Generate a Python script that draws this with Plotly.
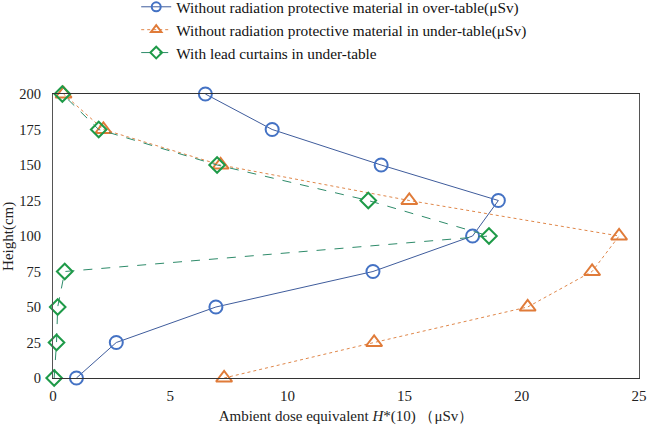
import plotly.graph_objects as go

heights = [0, 25, 50, 75, 100, 125, 150, 175, 200]
over_table = [1.0, 2.7, 6.95, 13.65, 17.9, 19.0, 14.0, 9.35, 6.5]
under_table = [7.3, 13.7, 20.25, 23.0, 24.15, 15.2, 7.15, 2.15, 0.45]
lead_curtain = [0.05, 0.15, 0.2, 0.5, 18.6, 13.45, 7.0, 1.95, 0.4]

names = [
    "Without radiation protective material in over-table(μSv)",
    "Without radiation protective material in under-table(μSv)",
    "With lead curtains in under-table",
]

series = [
    (over_table, dict(color="#3F5C9C", width=1), "circle-open", 13, "#4472C4"),
    (under_table, dict(color="#E0874A", width=1, dash="dot"), "triangle-up-open", 14, "#E07B39"),
    (lead_curtain, dict(color="#2E8B6A", width=1, dash="dash"), "diamond-open", 12, "#1E9A48"),
]

fig = go.Figure()
for (vals, line, sym, size, mcol), name in zip(series, names):
    fig.add_trace(go.Scatter(
        x=vals, y=heights, name=name, mode="lines+markers", showlegend=False,
        line=line, marker=dict(symbol=sym, size=size, color=mcol, line=dict(width=2)),
        cliponaxis=False,
    ))
# legend entries with smaller symbols, as in the reference
for (vals, line, sym, size, mcol), name in zip(series, names):
    fig.add_trace(go.Scatter(
        x=[None], y=[None], name=name, mode="lines+markers", showlegend=True,
        line=line, marker=dict(symbol=sym, size=9, color=mcol, line=dict(width=2)),
    ))

fig.update_layout(
    width=648, height=432,
    margin=dict(l=53, r=9, t=94, b=54, autoexpand=False),
    paper_bgcolor="white", plot_bgcolor="white",
    font=dict(family="Liberation Serif", size=15, color="#222222"),
    showlegend=True,
    legend=dict(x=0.142, y=1.365, xanchor="left", yanchor="top",
                font=dict(size=15.3, family="Liberation Serif", color="#111111"),
                tracegroupgap=0, bgcolor="rgba(0,0,0,0)"),
    xaxis=dict(range=[0, 25], tickvals=[0, 5, 10, 15, 20, 25],
               showgrid=False, zeroline=False, showline=True, mirror=True,
               linecolor="#333333", linewidth=1,
               ticks="outside", ticklen=4, tickcolor="rgba(0,0,0,0)",
               title=dict(text="Ambient dose equivalent <i>H</i>*(10) （μSv）",
                          font=dict(size=15), standoff=7)),
    yaxis=dict(range=[0, 200], tickvals=[0, 25, 50, 75, 100, 125, 150, 175, 200],
               showgrid=False, zeroline=False, showline=True, mirror=True,
               linecolor="#555555", linewidth=1, tickfont=dict(size=14.5),
               ticks="outside", ticklen=8, tickcolor="rgba(0,0,0,0)"),
    annotations=[dict(text="Height(cm)", textangle=-90, xref="paper", yref="paper",
                      x=-0.077, y=0.5, xanchor="center", yanchor="middle",
                      showarrow=False, font=dict(size=15))],
)

fig.write_html("out.html", post_script="document.body.style.margin='0';",
               config={"displayModeBar": False})
